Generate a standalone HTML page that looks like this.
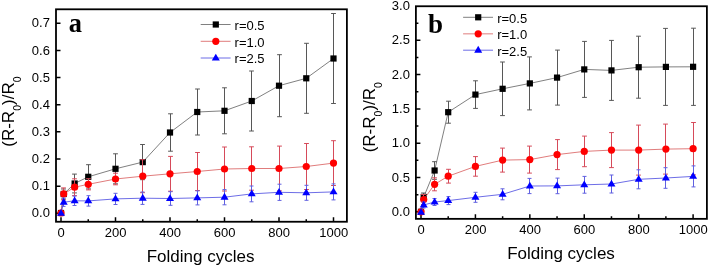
<!DOCTYPE html>
<html><head><meta charset="utf-8"><style>
html,body{margin:0;padding:0;background:#fff;}
body{width:709px;height:267px;position:relative;overflow:hidden;font-family:"Liberation Sans",sans-serif;}
</style></head><body>
<svg width="709" height="267" viewBox="0 0 709 267" style="position:absolute;left:0;top:0"><path d="M56 213.30H60.5M56 186.15H60.5M56 159.00H60.5M56 131.85H60.5M56 104.70H60.5M56 77.55H60.5M56 50.40H60.5M56 23.25H60.5M61.00 221.75V217.25M88.25 221.75V219.25M115.50 221.75V217.25M142.75 221.75V219.25M170.00 221.75V217.25M197.25 221.75V219.25M224.50 221.75V217.25M251.75 221.75V219.25M279.00 221.75V217.25M306.25 221.75V219.25M333.50 221.75V217.25" stroke="#000" stroke-width="1.5"/><path d="M63.50 189.00V199.00M61.10 189.00H65.90M61.10 199.00H65.90M74.50 174.10V192.90M72.10 174.10H76.90M72.10 192.90H76.90M88.50 164.70V188.90M86.10 164.70H90.90M86.10 188.90H90.90M115.50 153.80V183.80M113.10 153.80H117.90M113.10 183.80H117.90M142.50 144.50V179.70M140.10 144.50H144.90M140.10 179.70H144.90M170.50 113.80V151.20M168.10 113.80H172.90M168.10 151.20H172.90M197.50 89.00V135.00M195.10 89.00H199.90M195.10 135.00H199.90M224.50 87.80V133.80M222.10 87.80H226.90M222.10 133.80H226.90M251.50 71.00V131.00M249.10 71.00H253.90M249.10 131.00H253.90M279.50 54.70V116.70M277.10 54.70H281.90M277.10 116.70H281.90M306.50 43.30V113.30M304.10 43.30H308.90M304.10 113.30H308.90M333.50 13.50V103.50M331.10 13.50H335.90M331.10 103.50H335.90" stroke="#575757" stroke-width="1.0" fill="none"/><polyline points="61.00,213.00 63.73,194.00 74.62,183.50 88.25,176.80 115.50,168.80 142.75,162.10 170.00,132.50 197.25,112.00 224.50,110.80 251.75,101.00 279.00,85.70 306.25,78.30 333.50,58.50" stroke="#606060" stroke-width="0.8" fill="none"/><rect x="57.90" y="209.90" width="6.2" height="6.2" fill="#000"/><rect x="60.62" y="190.90" width="6.2" height="6.2" fill="#000"/><rect x="71.53" y="180.40" width="6.2" height="6.2" fill="#000"/><rect x="85.15" y="173.70" width="6.2" height="6.2" fill="#000"/><rect x="112.40" y="165.70" width="6.2" height="6.2" fill="#000"/><rect x="139.65" y="159.00" width="6.2" height="6.2" fill="#000"/><rect x="166.90" y="129.40" width="6.2" height="6.2" fill="#000"/><rect x="194.15" y="108.90" width="6.2" height="6.2" fill="#000"/><rect x="221.40" y="107.70" width="6.2" height="6.2" fill="#000"/><rect x="248.65" y="97.90" width="6.2" height="6.2" fill="#000"/><rect x="275.90" y="82.60" width="6.2" height="6.2" fill="#000"/><rect x="303.15" y="75.20" width="6.2" height="6.2" fill="#000"/><rect x="330.40" y="55.40" width="6.2" height="6.2" fill="#000"/><path d="M63.50 187.90V199.90M61.10 187.90H65.90M61.10 199.90H65.90M74.50 178.80V195.60M72.10 178.80H76.90M72.10 195.60H76.90M88.50 178.70V189.90M86.10 178.70H90.90M86.10 189.90H90.90M115.50 173.20V184.80M113.10 173.20H117.90M113.10 184.80H117.90M142.50 159.70V192.70M140.10 159.70H144.90M140.10 192.70H144.90M170.50 156.40V191.20M168.10 156.40H172.90M168.10 191.20H172.90M197.50 152.50V190.50M195.10 152.50H199.90M195.10 190.50H199.90M224.50 147.00V191.00M222.10 147.00H226.90M222.10 191.00H226.90M251.50 146.80V190.20M249.10 146.80H253.90M249.10 190.20H253.90M279.50 146.10V190.90M277.10 146.10H281.90M277.10 190.90H281.90M306.50 143.50V189.50M304.10 143.50H308.90M304.10 189.50H308.90M333.50 140.70V185.50M331.10 140.70H335.90M331.10 185.50H335.90" stroke="#d64a5a" stroke-width="1.0" fill="none"/><polyline points="61.00,213.00 63.73,193.90 74.62,187.20 88.25,184.30 115.50,179.00 142.75,176.20 170.00,173.80 197.25,171.50 224.50,169.00 251.75,168.50 279.00,168.50 306.25,166.50 333.50,163.10" stroke="#d85a5a" stroke-width="0.8" fill="none"/><circle cx="61.00" cy="213.00" r="3.6" fill="#f00"/><circle cx="63.73" cy="193.90" r="3.6" fill="#f00"/><circle cx="74.62" cy="187.20" r="3.6" fill="#f00"/><circle cx="88.25" cy="184.30" r="3.6" fill="#f00"/><circle cx="115.50" cy="179.00" r="3.6" fill="#f00"/><circle cx="142.75" cy="176.20" r="3.6" fill="#f00"/><circle cx="170.00" cy="173.80" r="3.6" fill="#f00"/><circle cx="197.25" cy="171.50" r="3.6" fill="#f00"/><circle cx="224.50" cy="169.00" r="3.6" fill="#f00"/><circle cx="251.75" cy="168.50" r="3.6" fill="#f00"/><circle cx="279.00" cy="168.50" r="3.6" fill="#f00"/><circle cx="306.25" cy="166.50" r="3.6" fill="#f00"/><circle cx="333.50" cy="163.10" r="3.6" fill="#f00"/><path d="M63.50 198.00V206.40M61.50 198.00H65.50M61.50 206.40H65.50M74.50 196.10V205.50M72.50 196.10H76.50M72.50 205.50H76.50M88.50 195.70V206.10M86.50 195.70H90.50M86.50 206.10H90.50M115.50 193.30V204.50M113.50 193.30H117.50M113.50 204.50H117.50M142.50 192.00V204.40M140.50 192.00H144.50M140.50 204.40H144.50M170.50 191.70V205.30M168.50 191.70H172.50M168.50 205.30H172.50M197.50 190.90V204.90M195.50 190.90H199.50M195.50 204.90H199.50M224.50 189.60V204.80M222.50 189.60H226.50M222.50 204.80H226.50M251.50 186.00V201.80M249.50 186.00H253.50M249.50 201.80H253.50M279.50 184.20V200.40M277.50 184.20H281.50M277.50 200.40H281.50M306.50 185.30V200.30M304.50 185.30H308.50M304.50 200.30H308.50M333.50 183.90V199.90M331.50 183.90H335.50M331.50 199.90H335.50" stroke="#6060e0" stroke-width="1.0" fill="none"/><polyline points="61.00,213.40 63.73,202.20 74.62,200.80 88.25,200.90 115.50,198.90 142.75,198.20 170.00,198.50 197.25,197.90 224.50,197.20 251.75,193.90 279.00,192.30 306.25,192.80 333.50,191.90" stroke="#4848e0" stroke-width="0.8" fill="none"/><path d="M61.00 209.05L65.00 215.85H57.00Z" fill="#00f"/><path d="M63.73 197.85L67.72 204.65H59.73Z" fill="#00f"/><path d="M74.62 196.45L78.62 203.25H70.62Z" fill="#00f"/><path d="M88.25 196.55L92.25 203.35H84.25Z" fill="#00f"/><path d="M115.50 194.55L119.50 201.35H111.50Z" fill="#00f"/><path d="M142.75 193.85L146.75 200.65H138.75Z" fill="#00f"/><path d="M170.00 194.15L174.00 200.95H166.00Z" fill="#00f"/><path d="M197.25 193.55L201.25 200.35H193.25Z" fill="#00f"/><path d="M224.50 192.85L228.50 199.65H220.50Z" fill="#00f"/><path d="M251.75 189.55L255.75 196.35H247.75Z" fill="#00f"/><path d="M279.00 187.95L283.00 194.75H275.00Z" fill="#00f"/><path d="M306.25 188.45L310.25 195.25H302.25Z" fill="#00f"/><path d="M333.50 187.55L337.50 194.35H329.50Z" fill="#00f"/><path d="M200.7 24.5H230.6" stroke="#606060" stroke-width="0.8"/><rect x="212.70" y="21.40" width="6.2" height="6.2" fill="#000"/><path d="M200.7 41.3H230.6" stroke="#d85a5a" stroke-width="0.8"/><circle cx="215.80" cy="41.30" r="3.6" fill="#f00"/><path d="M200.7 58H230.6" stroke="#4848e0" stroke-width="0.8"/><path d="M215.80 53.65L219.80 60.45H211.80Z" fill="#00f"/><rect x="56" y="9.3" width="290.90" height="212.45" fill="none" stroke="#000" stroke-width="1.8"/><path d="M415.9 211.80H420.4M415.9 194.65H418.4M415.9 177.50H420.4M415.9 160.35H418.4M415.9 143.20H420.4M415.9 126.05H418.4M415.9 108.90H420.4M415.9 91.75H418.4M415.9 74.60H420.4M415.9 57.45H418.4M415.9 40.30H420.4M415.9 23.15H418.4M421.00 218.85V214.35M448.21 218.85V216.35M475.42 218.85V214.35M502.63 218.85V216.35M529.84 218.85V214.35M557.05 218.85V216.35M584.26 218.85V214.35M611.47 218.85V216.35M638.68 218.85V214.35M665.89 218.85V216.35M693.10 218.85V214.35" stroke="#000" stroke-width="1.5"/><path d="M423.50 193.00V201.00M421.10 193.00H425.90M421.10 201.00H425.90M434.50 161.70V179.30M432.10 161.70H436.90M432.10 179.30H436.90M448.50 101.20V123.20M446.10 101.20H450.90M446.10 123.20H450.90M475.50 80.80V108.40M473.10 80.80H477.90M473.10 108.40H477.90M502.50 62.00V115.60M500.10 62.00H504.90M500.10 115.60H504.90M529.50 56.90V109.90M527.10 56.90H531.90M527.10 109.90H531.90M557.50 50.10V105.10M555.10 50.10H559.90M555.10 105.10H559.90M584.50 41.40V97.40M582.10 41.40H586.90M582.10 97.40H586.90M611.50 40.40V100.40M609.10 40.40H613.90M609.10 100.40H613.90M638.50 36.20V98.20M636.10 36.20H640.90M636.10 98.20H640.90M665.50 28.40V105.40M663.10 28.40H667.90M663.10 105.40H667.90M693.50 28.20V105.40M691.10 28.20H695.90M691.10 105.40H695.90" stroke="#575757" stroke-width="1.0" fill="none"/><polyline points="421.00,211.80 423.72,197.00 434.61,170.50 448.21,112.20 475.42,94.60 502.63,88.80 529.84,83.40 557.05,77.60 584.26,69.40 611.47,70.40 638.68,67.20 665.89,66.90 693.10,66.80" stroke="#606060" stroke-width="0.8" fill="none"/><rect x="417.90" y="208.70" width="6.2" height="6.2" fill="#000"/><rect x="420.62" y="193.90" width="6.2" height="6.2" fill="#000"/><rect x="431.50" y="167.40" width="6.2" height="6.2" fill="#000"/><rect x="445.11" y="109.10" width="6.2" height="6.2" fill="#000"/><rect x="472.32" y="91.50" width="6.2" height="6.2" fill="#000"/><rect x="499.53" y="85.70" width="6.2" height="6.2" fill="#000"/><rect x="526.74" y="80.30" width="6.2" height="6.2" fill="#000"/><rect x="553.95" y="74.50" width="6.2" height="6.2" fill="#000"/><rect x="581.16" y="66.30" width="6.2" height="6.2" fill="#000"/><rect x="608.37" y="67.30" width="6.2" height="6.2" fill="#000"/><rect x="635.58" y="64.10" width="6.2" height="6.2" fill="#000"/><rect x="662.79" y="63.80" width="6.2" height="6.2" fill="#000"/><rect x="690.00" y="63.70" width="6.2" height="6.2" fill="#000"/><path d="M423.50 194.50V204.50M421.10 194.50H425.90M421.10 204.50H425.90M434.50 177.80V190.80M432.10 177.80H436.90M432.10 190.80H436.90M448.50 169.30V183.10M446.10 169.30H450.90M446.10 183.10H450.90M475.50 156.60V176.20M473.10 156.60H477.90M473.10 176.20H477.90M502.50 148.10V172.10M500.10 148.10H504.90M500.10 172.10H504.90M529.50 146.10V173.10M527.10 146.10H531.90M527.10 173.10H531.90M557.50 139.60V169.60M555.10 139.60H559.90M555.10 169.60H559.90M584.50 136.10V166.70M582.10 136.10H586.90M582.10 166.70H586.90M611.50 132.60V167.60M609.10 132.60H613.90M609.10 167.60H613.90M638.50 125.10V175.10M636.10 125.10H640.90M636.10 175.10H640.90M665.50 124.10V174.10M663.10 124.10H667.90M663.10 174.10H667.90M693.50 122.50V174.90M691.10 122.50H695.90M691.10 174.90H695.90" stroke="#d64a5a" stroke-width="1.0" fill="none"/><polyline points="421.00,211.80 423.72,199.50 434.61,184.30 448.21,176.20 475.42,166.40 502.63,160.10 529.84,159.60 557.05,154.60 584.26,151.40 611.47,150.10 638.68,150.10 665.89,149.10 693.10,148.70" stroke="#d85a5a" stroke-width="0.8" fill="none"/><circle cx="421.00" cy="211.80" r="3.6" fill="#f00"/><circle cx="423.72" cy="199.50" r="3.6" fill="#f00"/><circle cx="434.61" cy="184.30" r="3.6" fill="#f00"/><circle cx="448.21" cy="176.20" r="3.6" fill="#f00"/><circle cx="475.42" cy="166.40" r="3.6" fill="#f00"/><circle cx="502.63" cy="160.10" r="3.6" fill="#f00"/><circle cx="529.84" cy="159.60" r="3.6" fill="#f00"/><circle cx="557.05" cy="154.60" r="3.6" fill="#f00"/><circle cx="584.26" cy="151.40" r="3.6" fill="#f00"/><circle cx="611.47" cy="150.10" r="3.6" fill="#f00"/><circle cx="638.68" cy="150.10" r="3.6" fill="#f00"/><circle cx="665.89" cy="149.10" r="3.6" fill="#f00"/><circle cx="693.10" cy="148.70" r="3.6" fill="#f00"/><path d="M423.50 202.00V208.00M421.50 202.00H425.50M421.50 208.00H425.50M434.50 198.50V205.50M432.50 198.50H436.50M432.50 205.50H436.50M448.50 196.60V204.60M446.50 196.60H450.50M446.50 204.60H450.50M475.50 192.30V202.30M473.50 192.30H477.50M473.50 202.30H477.50M502.50 188.80V199.80M500.50 188.80H504.50M500.50 199.80H504.50M529.50 178.40V193.60M527.50 178.40H531.50M527.50 193.60H531.50M557.50 178.10V193.70M555.50 178.10H559.50M555.50 193.70H559.50M584.50 176.40V193.20M582.50 176.40H586.50M582.50 193.20H586.50M611.50 175.00V193.00M609.50 175.00H613.50M609.50 193.00H613.50M638.50 169.80V188.80M636.50 169.80H640.50M636.50 188.80H640.50M665.50 167.70V188.30M663.50 167.70H667.50M663.50 188.30H667.50M693.50 165.90V186.90M691.50 165.90H695.50M691.50 186.90H695.50" stroke="#6060e0" stroke-width="1.0" fill="none"/><polyline points="421.00,212.30 423.72,205.00 434.61,202.00 448.21,200.60 475.42,197.30 502.63,194.30 529.84,186.00 557.05,185.90 584.26,184.80 611.47,184.00 638.68,179.30 665.89,178.00 693.10,176.40" stroke="#4848e0" stroke-width="0.8" fill="none"/><path d="M421.00 207.95L425.00 214.75H417.00Z" fill="#00f"/><path d="M423.72 200.65L427.72 207.45H419.72Z" fill="#00f"/><path d="M434.61 197.65L438.61 204.45H430.61Z" fill="#00f"/><path d="M448.21 196.25L452.21 203.05H444.21Z" fill="#00f"/><path d="M475.42 192.95L479.42 199.75H471.42Z" fill="#00f"/><path d="M502.63 189.95L506.63 196.75H498.63Z" fill="#00f"/><path d="M529.84 181.65L533.84 188.45H525.84Z" fill="#00f"/><path d="M557.05 181.55L561.05 188.35H553.05Z" fill="#00f"/><path d="M584.26 180.45L588.26 187.25H580.26Z" fill="#00f"/><path d="M611.47 179.65L615.47 186.45H607.47Z" fill="#00f"/><path d="M638.68 174.95L642.68 181.75H634.68Z" fill="#00f"/><path d="M665.89 173.65L669.89 180.45H661.89Z" fill="#00f"/><path d="M693.10 172.05L697.10 178.85H689.10Z" fill="#00f"/><path d="M463.1 17.3H493" stroke="#606060" stroke-width="0.8"/><rect x="475.10" y="14.20" width="6.2" height="6.2" fill="#000"/><path d="M463.1 33.85H493" stroke="#d85a5a" stroke-width="0.8"/><circle cx="478.20" cy="33.85" r="3.6" fill="#f00"/><path d="M463.1 50.2H493" stroke="#4848e0" stroke-width="0.8"/><path d="M478.20 45.85L482.20 52.65H474.20Z" fill="#00f"/><rect x="415.9" y="6.25" width="291.00" height="212.60" fill="none" stroke="#000" stroke-width="1.8"/></svg>
<svg width="709" height="267" viewBox="0 0 709 267" style="position:absolute;left:0;top:0;will-change:transform" font-family="Liberation Sans, sans-serif" fill="#000"><text x="49.90" y="217.40" font-size="13" text-anchor="end" >0.0</text><text x="49.90" y="190.25" font-size="13" text-anchor="end" >0.1</text><text x="49.90" y="163.10" font-size="13" text-anchor="end" >0.2</text><text x="49.90" y="135.95" font-size="13" text-anchor="end" >0.3</text><text x="49.90" y="108.80" font-size="13" text-anchor="end" >0.4</text><text x="49.90" y="81.65" font-size="13" text-anchor="end" >0.5</text><text x="49.90" y="54.50" font-size="13" text-anchor="end" >0.6</text><text x="49.90" y="27.35" font-size="13" text-anchor="end" >0.7</text><text x="61.20" y="236.80" font-size="13" text-anchor="middle" >0</text><text x="115.70" y="236.80" font-size="13" text-anchor="middle" >200</text><text x="170.20" y="236.80" font-size="13" text-anchor="middle" >400</text><text x="224.70" y="236.80" font-size="13" text-anchor="middle" >600</text><text x="279.20" y="236.80" font-size="13" text-anchor="middle" >800</text><text x="333.70" y="236.80" font-size="13" text-anchor="middle" >1000</text><text x="409.90" y="215.90" font-size="13" text-anchor="end" >0.0</text><text x="409.90" y="181.60" font-size="13" text-anchor="end" >0.5</text><text x="409.90" y="147.30" font-size="13" text-anchor="end" >1.0</text><text x="409.90" y="113.00" font-size="13" text-anchor="end" >1.5</text><text x="409.90" y="78.70" font-size="13" text-anchor="end" >2.0</text><text x="409.90" y="44.40" font-size="13" text-anchor="end" >2.5</text><text x="409.90" y="10.10" font-size="13" text-anchor="end" >3.0</text><text x="421.20" y="234.10" font-size="13" text-anchor="middle" >0</text><text x="475.62" y="234.10" font-size="13" text-anchor="middle" >200</text><text x="530.04" y="234.10" font-size="13" text-anchor="middle" >400</text><text x="584.46" y="234.10" font-size="13" text-anchor="middle" >600</text><text x="638.88" y="234.10" font-size="13" text-anchor="middle" >800</text><text x="693.30" y="234.10" font-size="13" text-anchor="middle" >1000</text><text x="200.60" y="262.10" font-size="17" text-anchor="middle" >Folding cycles</text><text x="561.00" y="258.80" font-size="17" text-anchor="middle" >Folding cycles</text><text transform="translate(13.8 111.6) rotate(-90)" font-size="17" text-anchor="middle">(R-R<tspan font-size="10.5" dy="7.2">0</tspan><tspan dy="-7.2">)/R</tspan><tspan font-size="10.5" dy="7.2">0</tspan></text><text transform="translate(374.8 117.2) rotate(-90)" font-size="17" text-anchor="middle">(R-R<tspan font-size="10.5" dy="7.2">0</tspan><tspan dy="-7.2">)/R</tspan><tspan font-size="10.5" dy="7.2">0</tspan></text><text x="234.60" y="29.90" font-size="13" text-anchor="start" >r=0.5</text><text x="234.60" y="46.70" font-size="13" text-anchor="start" >r=1.0</text><text x="234.60" y="63.40" font-size="13" text-anchor="start" >r=2.5</text><text x="497.20" y="22.70" font-size="13" text-anchor="start" >r=0.5</text><text x="497.20" y="39.25" font-size="13" text-anchor="start" >r=1.0</text><text x="497.20" y="55.60" font-size="13" text-anchor="start" >r=2.5</text><text x="68.8" y="32.3" font-size="26.4" font-weight="bold" font-family="Liberation Serif, serif">a</text><text x="428.1" y="32.9" font-size="27" font-weight="bold" font-family="Liberation Serif, serif">b</text></svg>
</body></html>
